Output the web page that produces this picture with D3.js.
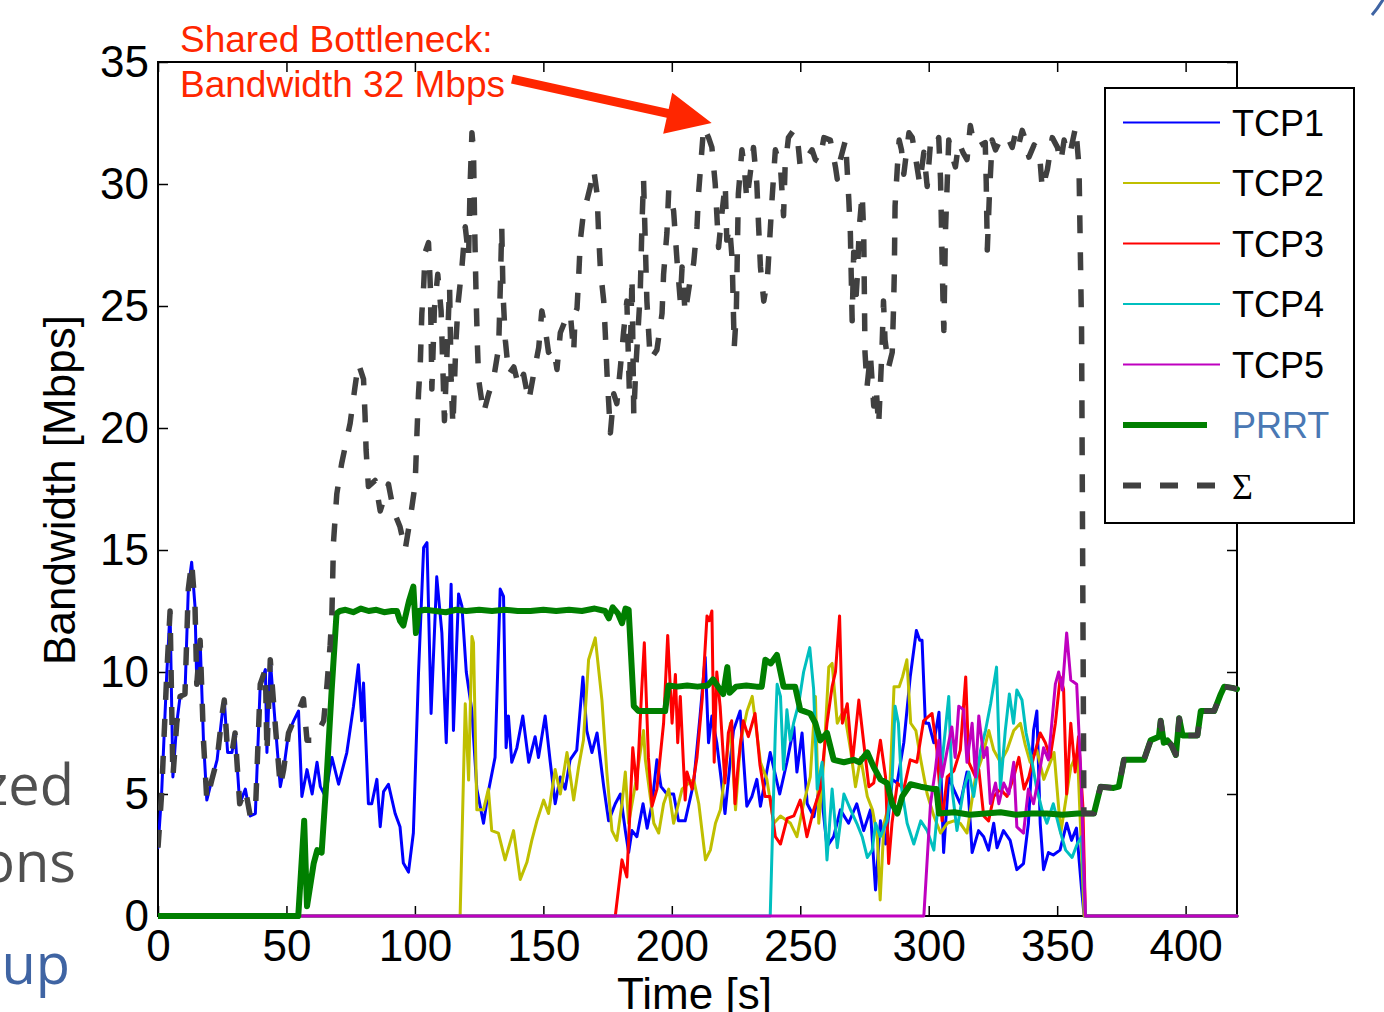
<!DOCTYPE html>
<html>
<head>
	<title></title>
	<script src="https://d3js.org/d3.v7.min.js"></script>
	<style>
		body { margin: 0; background: #fff; }
		text { font-family: "Liberation Sans", Arial, sans-serif; }
	</style>
</head>
<body>

<script>

// [time s, Mbps]
var tcp1 = [[0,2.8],[1.4,5.0],[3.4,9.9],[4.7,12.5],[5.8,5.7],[7.3,7.9],[8.6,9.0],[10.5,9.1],[11.8,13.4],[13.1,14.5],[14.4,12.7],[15.1,9.5],[16.4,11.3],[17.7,7.2],[19,4.75],[21,5.6],[23,6.4],[25,8.3],[25.8,8.85],[27.1,6.7],[28.8,6.7],[30,7.5],[31.8,4.6],[34,5.2],[35.9,4.1],[37.9,4.2],[39.8,9.5],[41.8,10.1],[42.4,6.7],[43.7,10.5],[45.6,7.9],[47.6,5.3],[48.9,6.0],[50.8,7.5],[52.8,8.0],[54.7,8.4],[56,4.9],[58,6.0],[60,5.0],[61.9,6.3],[63.2,5.3],[65.1,4.9],[67.7,6.5],[70.3,5.4],[73.5,6.7],[76.1,8.6],[78,10.3],[79.3,8.0],[80,9.55],[81.9,4.6],[83.2,4.6],[85.2,5.6],[86.5,3.66],[87.8,5.1],[89.7,5.4],[92.3,4.2],[94.2,3.66],[95.5,2.17],[97.5,1.8],[99.4,3.4],[101.4,9.95],[103.4,15.1],[104.7,15.3],[106.3,8.3],[108.5,13.9],[110.5,11.6],[112.2,7.1],[114.1,13.6],[115,7.6],[117,13.2],[118.3,12.7],[120,10],[122.2,8.4],[124.1,5.2],[126.7,3.8],[128.6,5.1],[131.2,6.5],[133.2,13.4],[134.5,13.1],[135.5,6.9],[136.4,8.2],[137.7,6.3],[139.7,6.9],[142,8.2],[144.3,6.3],[146.8,7.35],[148.1,6.5],[150.7,8.2],[152.7,6.3],[154.6,4.6],[156.6,5.7],[158.5,5.2],[160.4,6.4],[163,6.8],[165.4,9.8],[166.9,7.6],[168.9,6.7],[170.9,7.5],[173.5,5.3],[175.4,3.9],[178,4.6],[180,5.0],[181.9,3.5],[183.2,2.6],[184.5,3.5],[186.4,3.25],[188.8,4.6],[190.4,3.6],[192.3,4.6],[194.2,6.4],[195.8,5.3],[198.1,5.0],[200.7,5.0],[202.6,3.9],[205.2,3.9],[208.5,5.45],[211,8.2],[213,10.6],[214.3,7.1],[215.6,8.2],[217.5,7.1],[219.4,5.45],[220.7,4.2],[222.7,6.3],[224,7.6],[226.6,8.4],[229.2,4.5],[231.2,4.9],[233.1,5.6],[234.5,4.5],[238.3,6.7],[242,5.0],[244.8,6.3],[247.5,7.75],[248.7,5.9],[250.7,7.5],[252.7,4.6],[255.3,4.07],[257.8,5.45],[260.4,2.84],[263,3.25],[265.6,4.35],[268.8,3.8],[272,4.6],[274.7,3.5],[277.3,4.35],[279.3,1.07],[281.2,3.9],[283.2,2.95],[285.8,5.6],[287.7,5.45],[290.3,7.1],[292.8,9.8],[295.2,11.7],[296.5,11.3],[297.4,11.3],[298.7,7.9],[300,7.9],[302,7.1],[304,8.35],[305.8,2.6],[307.8,5.7],[309.7,5.2],[312.3,4.6],[314.9,5.9],[316.9,2.6],[319.4,3.5],[321.4,3.25],[323.3,2.7],[325.3,3.8],[326.6,2.8],[329.1,3.5],[331.7,3.1],[334.3,1.9],[336.9,2.15],[338.8,3.8],[340.8,7.6],[342.1,8.4],[343.4,3.8],[344.7,1.9],[346.6,2.6],[348.5,2.5],[351.1,2.7],[353.7,3.8],[355.6,3.1],[357.5,3.6],[359.5,1.1],[360.5,0],[420,0]]

var tcp2 = [[56,0],[117.6,0],[119.6,8.7],[120.9,5.57],[122.2,11.45],[122.8,11.2],[124.1,4.35],[126.7,4.35],[128.6,5.2],[129.9,3.5],[132.5,3.4],[135.1,2.3],[138.4,3.5],[141,1.5],[143.6,2.2],[145.5,3.1],[147.5,3.9],[150.1,4.75],[152,4.2],[154.6,6.0],[156.6,5.0],[159.2,6.7],[161.8,4.75],[163.7,6.1],[165.6,7.2],[167.6,10.5],[170.2,11.4],[172.8,8.85],[174.7,5.9],[176.7,3.5],[178.6,3.1],[180.6,4.6],[181.9,5.9],[183.2,3.8],[186,5.5],[189,7.6],[189.7,6.4],[193,3.8],[194.9,3.4],[196.8,4.6],[198.8,5.2],[200.7,3.8],[204,5.2],[206.6,5.45],[208.5,5.6],[210.5,4.6],[213.1,2.3],[215,2.7],[217,3.8],[218.9,4.35],[220.9,6.0],[222.8,7.9],[224.8,4.35],[226.7,7.1],[229.3,8.4],[231.3,9.0],[232.6,7.9],[234.5,6.3],[237,5.6],[239.7,3.8],[242.3,4.1],[246.2,3.8],[248.7,3.25],[251.3,4.6],[253.9,5.7],[255.9,9.0],[257.2,3.8],[259.1,6.3],[261.1,10.2],[262.4,10.35],[264.4,7.9],[267,8.45],[269.6,6.8],[271.5,5.3],[273.5,6.5],[276.1,4.9],[278.1,4.35],[280,3.25],[281.1,0.66],[282.6,3.8],[284.6,4.6],[286.5,9.4],[288.5,9.4],[289.8,9.8],[291.5,10.5],[293,7.9],[295,7.6],[296.9,6.4],[299.4,5.0],[302,4.1],[304.6,3.4],[307.2,3.8],[309.8,3.9],[312.3,3.8],[314.9,3.4],[318.2,5.7],[320.8,6.5],[323.4,7.6],[325.3,6.8],[327.9,6.3],[330.5,6.8],[333.1,7.6],[335.7,7.9],[337.6,7.0],[339.5,6.3],[342.1,6.8],[344.8,5.6],[348.8,6.7],[351.4,3.4],[355.3,6.1],[357.9,6.7],[360.5,0],[420,0]]

var tcp3 = [[56,0],[178,0],[180.6,2.3],[182.5,1.6],[183.5,3.8],[184.8,6.9],[186.4,5.2],[188.3,9.3],[189.3,11.2],[190.9,6.5],[192.3,4.5],[194.2,5.2],[196.8,7.9],[198.4,11.5],[200.1,7.9],[201.4,9.9],[202.3,7.1],[203.3,9.0],[205.2,4.75],[205.9,5.9],[207.9,5.2],[209.8,6.5],[211.8,8.85],[213.7,12.3],[214.6,12.1],[215.6,12.5],[216.5,6.3],[217.5,10.0],[218.8,8.6],[220.7,5.45],[222,7.5],[223.3,8.0],[224.6,4.6],[225.9,6.3],[227.8,8.0],[229.8,7.35],[232.4,8.3],[234.3,6.2],[236.3,4.9],[238.2,4.9],[240.3,3.25],[242.3,2.95],[244.9,4.0],[247.5,4.1],[250,4.75],[252.6,3.25],[255.2,4.35],[257.8,5.2],[260.4,7.9],[262.4,9.4],[263.7,10.0],[265.3,12.3],[266.4,7.9],[268.3,8.7],[270.3,6.3],[272.8,8.85],[274.7,7.1],[276.7,5.3],[278.6,5.45],[281.2,7.2],[283.2,5.7],[284.4,2.15],[285.7,3.8],[287.8,5.45],[290.3,5.2],[292.8,6.4],[295.4,6.3],[298,8.0],[301.3,8.3],[303.2,6.8],[305.2,3.9],[307.2,5.7],[309.8,5.95],[312.3,6.8],[314.4,9.8],[315.6,6.3],[318.2,5.7],[319.5,6.0],[321.4,4.1],[323.3,3.9],[325.3,4.9],[327.9,5.2],[330.5,4.9],[333.1,5.7],[335.1,6.5],[337.1,5.2],[339,5.7],[340.8,6.5],[343.4,7.5],[345.4,7.1],[347.3,6.5],[349.3,7.9],[351.2,9.8],[352.5,9.3],[353.7,5.0],[355.3,7.9],[357,5.9],[358.3,7.35],[360,4.5],[361,0],[420,0]]

var tcp4 = [[56,0],[238.3,0],[240.3,7.6],[241,9.5],[242.3,9.0],[243.5,6.0],[244.8,8.45],[246.1,7.2],[247.4,7.9],[249.4,8.7],[251.3,10],[253.7,11.0],[255.2,9.3],[256.6,5.2],[258.5,6.3],[260.4,2.3],[262.4,5.2],[264.4,2.8],[267,5.0],[269.6,4.35],[272,3.8],[274.1,3.25],[276.1,2.4],[278,2.7],[279.3,3.8],[281.2,3.25],[283.8,3.9],[285.8,5.7],[286.9,8.6],[288.2,7.9],[289.5,5.2],[291.6,3.8],[294.2,2.95],[296.9,3.9],[299.4,3.5],[302,2.7],[304.6,5.7],[307.8,9.0],[309.1,5.2],[311,3.5],[313.6,5.2],[315.6,5.9],[317.5,4.9],[320.2,6.8],[322.1,7.6],[324.1,8.7],[326.4,10.2],[327.9,5.2],[329.8,7.6],[331.4,9.1],[333,7.9],[334.3,9.26],[336.3,8.85],[337.9,7.5],[339.9,6.5],[342.1,5.2],[344.1,4.35],[346,3.8],[348.5,4.6],[351.1,3.5],[353.3,2.7],[355.8,2.4],[357.8,2.95],[359.5,3.25],[361,0],[420,0]]

var tcp5 = [[56,0],[298.1,0],[300.7,4.6],[302.6,6.0],[303.9,7.2],[305.2,5.7],[307.2,6.8],[309,7.75],[310.3,6.5],[311.7,8.6],[313.6,8.45],[314.9,6.3],[316.9,7.9],[318.2,5.7],[319.5,8.2],[321.4,6.5],[322.7,6.9],[324,4.6],[326,5.45],[327.3,4.6],[329.2,5.45],[331.2,5.0],[333.1,6.3],[334.3,3.65],[336.9,3.4],[338.8,5.2],[340.8,4.6],[342.8,5.7],[344.7,6.9],[346.6,6.4],[349.3,9.5],[350.6,10],[352,9.26],[353.7,11.6],[355.3,9.67],[357.6,9.5],[359.2,5.9],[361,0],[420,0]]

var prrt = [[0,0],[54.6,0],[56.9,3.9],[58,0.4],[60.6,2.15],[62,2.7],[63.7,2.6],[65.6,5.6],[67.6,9.26],[69.5,12.4],[70.8,12.5],[73,12.55],[76,12.45],[79,12.6],[82,12.5],[85,12.55],[88,12.45],[91,12.5],[93,12.5],[94.2,12.1],[95.5,11.9],[97,12.6],[97.8,12.95],[99.4,13.5],[100.4,11.6],[101.5,12.5],[104,12.55],[108,12.5],[112,12.45],[116,12.55],[120,12.5],[125,12.55],[130,12.5],[135,12.55],[140,12.5],[145,12.5],[150,12.55],[155,12.5],[160,12.55],[165,12.5],[170,12.6],[174,12.5],[175.5,12.2],[177,12.65],[179,12.4],[180.6,12.0],[182,12.6],[183.2,12.55],[185.2,8.6],[187,8.4],[190,8.4],[194,8.4],[197.4,8.4],[198.7,9.45],[202,9.4],[206,9.45],[210,9.4],[214,9.45],[216,9.7],[218,9.4],[220,9.1],[221.6,10.2],[222.5,9.15],[225,9.4],[229,9.45],[233,9.4],[235,9.4],[236.4,10.5],[238.5,10.35],[240.9,10.7],[243.5,9.4],[246,9.4],[248,9.4],[250,8.45],[253.9,8.3],[255.9,7.9],[257.8,7.2],[260.4,7.5],[263,6.4],[267,6.3],[270.8,6.4],[273,6.3],[276.1,6.7],[278.6,6.1],[281.2,5.6],[283.8,5.45],[285.8,4.6],[287.8,4.2],[289.7,4.9],[292.9,5.4],[296.9,5.3],[302,5.2],[303,5.2],[304,4.2],[310,4.25],[316,4.15],[322,4.2],[328,4.25],[334,4.15],[340,4.2],[346,4.2],[352,4.15],[358,4.2],[364.3,4.2],[366.9,5.3],[372,5.25],[374,5.3],[376,6.4],[383.8,6.4],[386.4,7.2],[389.6,7.35],[390.3,8.0],[391.5,7.1],[392.9,7.2],[394.5,7.0],[396.2,6.6],[397.5,8.1],[398.8,7.4],[404.6,7.4],[405.9,8.4],[411.1,8.4],[413.7,9.1],[415,9.4],[418.2,9.35],[420,9.3]]

var total = [[0,2.8],[1.4,5.0],[3.4,9.9],[4.7,12.5],[5.8,5.7],[7.3,7.9],[8.6,9.0],[10.5,9.1],[11.8,13.4],[13.1,14.5],[14.4,12.7],[15.1,9.5],[16.4,11.3],[17.7,7.2],[19,4.75],[21,5.6],[23,6.4],[25,8.3],[25.8,8.85],[27.1,6.7],[28.8,6.7],[30,7.5],[31.8,4.6],[34,5.2],[35.9,4.1],[37.9,4.2],[39.8,9.5],[41.8,10.1],[42.4,6.7],[43.7,10.5],[45.6,7.9],[47.6,5.3],[48.9,6.0],[50.8,7.5],[52.8,8.0],[54.7,8.4],[56.6,8.9],[58,7.2],[60.6,7.2],[62.5,7.6],[64.5,8.0],[65.8,9.5],[67,11.1],[67.7,12.4],[68.3,15.3],[69.6,17.3],[71.5,18.55],[74.8,20.2],[76.7,21.7],[78,22.65],[80,22],[80.6,20.5],[81,19.1],[81.9,17.6],[84.5,17.85],[86.5,16.6],[89.7,17.7],[91.7,16.6],[94.2,15.95],[96.2,15.0],[98.2,16.3],[100.1,17.7],[100.8,19.8],[101.4,21.4],[102.1,22.65],[102.7,24.7],[103.4,25.8],[104,27.2],[105.3,27.6],[106,25.8],[106.3,23.9],[106.6,21.6],[107,22.9],[107.6,24.9],[108.9,26.3],[110.2,24.8],[111.5,20.3],[112.8,23.9],[113.5,25.8],[114.1,22],[114.8,20.1],[116,23.6],[116.9,25.2],[118.3,26.6],[119.6,28.25],[120.9,27],[121.5,30],[122.2,32.1],[122.8,31.4],[123.3,28],[123.8,25.5],[124.3,23.5],[124.8,22],[126.7,20.6],[128.7,21.4],[130.6,22],[132.6,23.3],[133.3,26],[133.8,28.25],[134.3,25.5],[135.2,23.6],[136.5,22.2],[138.5,22.5],[140.4,21.7],[142.3,22.2],[144.3,21.1],[146.2,22.2],[148.2,23.3],[149.4,24.8],[150.7,24.1],[152,23.1],[154,23.3],[155.3,22.4],[156.6,23.9],[158.5,24.4],[160.5,24.7],[161.8,23.1],[162.4,24.7],[163.1,24.9],[163.7,26.1],[164.4,27.7],[165.7,28.9],[167,29.35],[168.3,29.9],[169.6,30.6],[170.9,29.6],[171.5,28],[172.2,26.5],[173.5,25.2],[174.1,23.9],[174.8,22.2],[176.1,19.8],[177.4,21.4],[178.6,21.0],[180,22.5],[181.2,23.9],[182.5,25.2],[183.5,21.4],[184.5,26.2],[185.2,20.5],[186,22.5],[187.7,25.5],[188.4,28.4],[189,30.2],[190.3,25.2],[191,23.9],[191.6,22.8],[194.2,23.2],[196.2,24.7],[196.8,26.3],[198.1,28],[198.8,29.75],[200.7,28.9],[202,26.9],[203.3,25.2],[204,26.6],[205.2,24.7],[207.2,26.1],[208.5,26.75],[209.8,28.25],[210.4,29.6],[212.4,32.35],[214.3,31.9],[215.6,31.5],[216.9,30],[217.5,28.8],[218.2,27.4],[219.5,28.8],[220.8,30],[221.4,27.7],[222.5,28.25],[223.5,26.9],[224.3,23.3],[225.1,24.7],[225.9,29.6],[227.3,31.4],[228.2,30.7],[229.2,29.35],[230.5,30.4],[231.8,31.5],[233.1,30],[233.8,28.25],[234.5,26.6],[235.8,25.2],[237.2,26.1],[239,29.35],[240.3,31.4],[242.3,30.7],[243.5,28.7],[244.1,30.7],[245.4,31.9],[247.4,32.2],[248.7,32.1],[250,30.7],[252,31.0],[254.6,31.4],[255.9,31.0],[257.5,30.9],[259.2,31.9],[261.7,31.8],[263.7,30.7],[264.4,30.2],[265.6,31.0],[267.6,31.8],[268.2,30.7],[268.9,29.35],[269.5,28],[270.2,24.4],[270.8,27.2],[271.5,25],[272.2,26.2],[273,28.25],[274.1,29.6],[274.7,28],[275.2,23.1],[276,21.7],[277.3,23],[278.6,20.9],[279.5,21.7],[280.5,20.1],[281.8,23.2],[282.4,25.2],[283,23.6],[284.4,22.5],[285.8,23.1],[286.3,24.9],[286.6,26.3],[286.9,29.1],[287.8,30.7],[288.5,31.8],[289.4,31.4],[290.3,30.4],[291,31],[292.3,32.1],[293.6,31.9],[295,31],[296.5,30],[298.1,31.3],[299.4,29.9],[300.7,31.7],[302.3,31.5],[303.9,31.9],[304.6,30.2],[305.2,27],[305.6,25],[305.9,24],[306.5,28],[307.8,31.8],[309,31.2],[310.4,30.7],[311.7,31.7],[313.3,31.3],[314.9,31],[316.2,32.4],[317.5,31.7],[318.8,31.5],[320.4,31.6],[322,31.7],[322.4,30],[322.8,27.3],[323.6,29.5],[324.7,31.8],[326,31.4],[327.3,31.7],[329.2,31.5],[331.2,31.8],[332.5,31.5],[333.8,32.1],[335,31.6],[336.4,32.2],[337.7,31.8],[339,31.1],[341,31.6],[343,31.4],[344.2,29.8],[346.2,30.6],[348.1,31.9],[350.1,31.5],[351.4,30.9],[352.7,31.8],[354,31.2],[355.3,31.4],[357.2,32.35],[358.5,30.7],[359.5,24],[360.4,4.2],[361.7,4.2],[364.3,4.2],[366.9,5.3],[372,5.25],[374,5.3],[376,6.4],[383.8,6.4],[386.4,7.2],[389.6,7.35],[390.3,8.0],[391.5,7.1],[392.9,7.2],[394.5,7.0],[396.2,6.6],[397.5,8.1],[398.8,7.4],[404.6,7.4],[405.9,8.4],[411.1,8.4],[413.7,9.1],[415,9.4],[418.2,9.35],[420,9.3]]

var xTicks = [0, 50, 100, 150, 200, 250, 300, 350, 400]
var yTicks = [0, 5, 10, 15, 20, 25, 30, 35]

var series = [
	{name: 'TCP1', data: tcp1, color: '#0000ff', width: 3},
	{name: 'TCP2', data: tcp2, color: '#bfbf00', width: 3},
	{name: 'TCP3', data: tcp3, color: '#ff0000', width: 3},
	{name: 'TCP4', data: tcp4, color: '#00bfbf', width: 3},
	{name: 'TCP5', data: tcp5, color: '#bf00bf', width: 3},
	{name: 'PRRT', data: prrt, color: '#007f00', width: 6},
	{name: '\u03a3', data: total, color: '#404040', width: 5.5, dash: '18,19'}
]

var width = 1384
var height = 1012
var mLeft = 158, mRight = 1237, mTop = 62, mBottom = 916

var svg = d3.select('body').append('svg')
	.attr('width', width)
	.attr('height', height)

var x = d3.scaleLinear().domain([0, 420]).range([mLeft, mRight])
var y = d3.scaleLinear().domain([0, 35]).range([mBottom, mTop])

// bits of the slide behind the figure
svg.append('text').attr('x', 74).attr('y', 805).attr('text-anchor', 'end')
	.style('font-family', '"Open Sans", sans-serif').style('font-size', '56px').style('fill', '#505050').text('zed')
svg.append('text').attr('x', 76).attr('y', 882).attr('text-anchor', 'end')
	.style('font-family', '"Open Sans", sans-serif').style('font-size', '56px').style('fill', '#505050').text('ons')
svg.append('text').attr('x', 70).attr('y', 984).attr('text-anchor', 'end')
	.style('font-family', '"Open Sans", sans-serif').style('font-size', '56px').style('fill', '#3f64a3').text('up')
svg.append('path').attr('d', 'M1372,15 Q1378,8 1384,-2').style('fill', 'none').style('stroke', '#3f64a3').style('stroke-width', 3)

// axes first, data goes on top (matlab layer bottom)
var fontSize = '44px'

svg.append('rect')
	.attr('x', mLeft).attr('y', mTop)
	.attr('width', mRight - mLeft).attr('height', mBottom - mTop)
	.style('fill', 'none').style('stroke', '#000').style('stroke-width', 2)

svg.append('g').attr('transform', 'translate(0,' + mBottom + ')')
	.call(d3.axisBottom(x).tickValues(xTicks).tickSizeInner(-10).tickSizeOuter(0).tickPadding(14))
svg.append('g').attr('transform', 'translate(' + mLeft + ',0)')
	.call(d3.axisLeft(y).tickValues(yTicks).tickSizeInner(-10).tickSizeOuter(0).tickPadding(9))
svg.append('g').attr('transform', 'translate(0,' + mTop + ')')
	.call(d3.axisTop(x).tickValues(xTicks).tickSizeInner(-10).tickSizeOuter(0).tickFormat(''))
svg.append('g').attr('transform', 'translate(' + mRight + ',0)')
	.call(d3.axisRight(y).tickValues(yTicks).tickSizeInner(-10).tickSizeOuter(0).tickFormat(''))

svg.selectAll('.domain').remove()
svg.selectAll('.tick line').style('stroke', '#000').style('stroke-width', 1.5)
svg.selectAll('.tick text')
	.style('font-family', '"Liberation Sans", Arial, sans-serif')
	.style('font-size', fontSize)
	.style('fill', '#000')

svg.append('text')
	.attr('x', (mLeft + mRight) / 2 - 3).attr('y', 1009)
	.attr('text-anchor', 'middle')
	.style('font-size', fontSize)
	.text('Time [s]')

svg.append('text')
	.attr('transform', 'translate(75,490) rotate(-90)')
	.attr('text-anchor', 'middle')
	.style('font-size', fontSize)
	.text('Bandwidth [Mbps]')

svg.append('clipPath').attr('id', 'plot')
	.append('rect').attr('x', mLeft).attr('y', mTop).attr('width', mRight - mLeft + 3).attr('height', mBottom - mTop + 3)

var line = d3.line()
	.x(function(d) { return x(d[0]) })
	.y(function(d) { return y(d[1]) })

svg.append('g')
	.attr('clip-path', 'url(#plot)')
	.selectAll('path')
	.data(series)
	.enter().append('path')
	.attr('d', function(d) { return line(d.data) })
	.style('fill', 'none')
	.style('stroke', function(d) { return d.color })
	.style('stroke-width', function(d) { return d.width })
	.style('stroke-dasharray', function(d) { return d.dash || null })
	.style('stroke-linejoin', 'round')
	.style('stroke-linecap', function(d) { return d.dash ? 'butt' : 'round' })

// annotation
svg.append('text').attr('x', 180).attr('y', 52)
	.style('font-size', '37px').style('fill', '#ff2600').text('Shared Bottleneck:')
svg.append('text').attr('x', 180).attr('y', 97)
	.style('font-size', '37px').style('fill', '#ff2600').text('Bandwidth 32 Mbps')

var tail = [x(137.8), y(34.3)]
var tip = [x(215.5), y(32.5)]
var dx = tip[0] - tail[0], dy = tip[1] - tail[1]
var len = Math.sqrt(dx * dx + dy * dy)
var ux = dx / len, uy = dy / len
var nx = -uy, ny = ux
var hb = [tip[0] - 45 * ux, tip[1] - 45 * uy]
var arrow = [
	[tail[0] + 4.5 * nx, tail[1] + 4.5 * ny],
	[hb[0] + 4.5 * nx, hb[1] + 4.5 * ny],
	[hb[0] + 21 * nx, hb[1] + 21 * ny],
	tip,
	[hb[0] - 21 * nx, hb[1] - 21 * ny],
	[hb[0] - 4.5 * nx, hb[1] - 4.5 * ny],
	[tail[0] - 4.5 * nx, tail[1] - 4.5 * ny]
]
svg.append('path')
	.attr('d', 'M' + arrow.join('L') + 'Z')
	.style('fill', '#ff2600')

// legend
var legend = svg.append('g')

legend.append('rect')
	.attr('x', 1105).attr('y', 88)
	.attr('width', 249).attr('height', 435)
	.style('fill', '#fff').style('stroke', '#000').style('stroke-width', 2)

var item = legend.selectAll('.item')
	.data(series)
	.enter().append('g')
	.attr('class', 'item')
	.attr('transform', function(d, i) { return 'translate(0,' + (122.5 + i * 60.5) + ')' })

item.append('line')
	.attr('x1', 1123)
	.attr('x2', function(d) { return d.name == 'PRRT' ? 1207 : (d.dash ? 1216 : 1220) })
	.style('stroke', function(d) { return d.color })
	.style('stroke-width', function(d) { return d.width > 5 ? 6 : 2 })
	.style('stroke-dasharray', function(d) { return d.dash || null })

item.append('text')
	.attr('x', 1232)
	.attr('y', 13)
	.style('font-size', '36px')
	.style('font-family', function(d) { return d.dash ? '"Liberation Serif", serif' : null })
	.style('fill', function(d) { return d.name == 'PRRT' ? '#4a78b4' : '#000' })
	.text(function(d) { return d.name })

</script>

</body>
</html>
